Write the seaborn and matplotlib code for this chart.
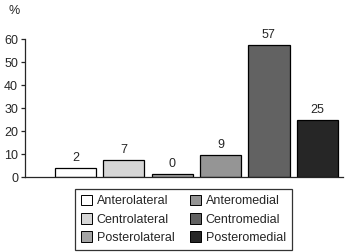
import matplotlib
matplotlib.use("Agg")
import matplotlib.pyplot as plt
import seaborn as sns
import pandas as pd
from matplotlib.patches import Patch

# data
categories = ["Anterolateral", "Centrolateral", "Posterolateral",
              "Anteromedial", "Centromedial", "Posteromedial"]
bar_heights = [3.8, 7.2, 1.3, 9.4, 57.4, 24.8]   # drawn heights
bar_labels = ["2", "7", "0", "9", "57", "25"]     # printed values
colors = ["#ffffff", "#d6d6d6", "#a4a4a4", "#959595", "#626262", "#262626"]
y_ticks = [0, 10, 20, 30, 40, 50, 60]

df = pd.DataFrame({"region": categories, "pct": bar_heights})

sns.set_style("ticks")
plt.rcParams["font.family"] = ["Liberation Sans", "DejaVu Sans"]

fig = plt.figure(figsize=(3.5, 2.52), dpi=100)
ax = fig.add_axes([0.0714, 0.2976, 0.9086, 0.5476])

sns.barplot(data=df, x="region", y="pct", hue="region", palette=colors,
            edgecolor="black", linewidth=0.9, width=0.85, legend=False,
            saturation=1, ax=ax)

# value labels above the bars
for cont, lab in zip(ax.containers, bar_labels):
    ax.bar_label(cont, labels=[lab], padding=3, fontsize=9)

ax.set_xlim(-1.04, 5.53)
ax.set_ylim(0, 60)
ax.set_yticks(y_ticks)
ax.set_xticks([])
ax.set_xlabel("")
ax.set_ylabel("")
ax.tick_params(axis="y", labelsize=9, length=3, width=0.9, pad=2)
sns.despine(ax=ax)
for s in ["left", "bottom"]:
    ax.spines[s].set_linewidth(0.9)

fig.text(0.025, 0.955, "%", fontsize=9, va="center")

# legend below the plot, filled column-wise
handles = [Patch(facecolor=c, edgecolor="black", linewidth=0.7) for c in colors]
leg = fig.legend(handles, categories, ncol=2, loc="upper left",
                 bbox_to_anchor=(0.214, 0.25), fontsize=9, frameon=True,
                 fancybox=False, edgecolor="black", handlelength=0.95,
                 handleheight=0.95, handletextpad=0.35, columnspacing=1.2,
                 labelspacing=0.45, borderpad=0.45, borderaxespad=0)
leg.get_frame().set_linewidth(0.9)

fig.savefig("out.png", dpi=100)
